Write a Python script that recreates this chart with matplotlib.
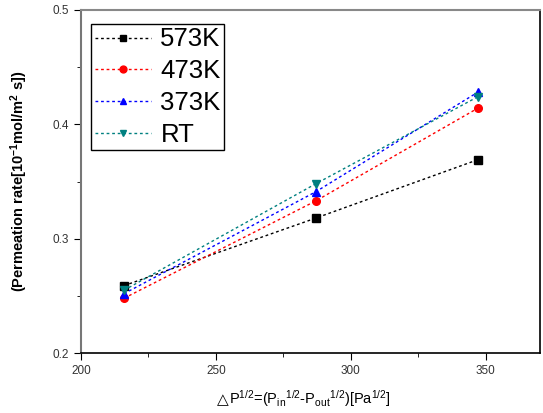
import numpy as np
import matplotlib
matplotlib.use('Agg')
import matplotlib.pyplot as plt
from matplotlib.ticker import MultipleLocator

plt.rcParams['font.family'] = ['Liberation Sans', 'DejaVu Sans']
plt.rcParams['mathtext.default'] = 'regular'

# Data
dp = [216, 287, 347]
labels = ['573K', '473K', '373K', 'RT']
rate_573 = [0.259, 0.318, 0.369]
rate_473 = [0.248, 0.333, 0.414]
rate_373 = [0.252, 0.341, 0.428]
rate_rt = [0.255, 0.348, 0.424]

series = [rate_573, rate_473, rate_373, rate_rt]
colors = ['black', 'red', 'blue', '#008080']
markers = ['s', 'o', '^', 'v']

fig = plt.figure(figsize=(5.43, 4.13), dpi=100)
ax = fig.add_axes([0.149, 0.145, 0.845, 0.831])

for ys, c, m, lab in zip(series, colors, markers, labels):
    ax.plot(dp, ys, color=c, marker=m, markersize=5.5, linestyle=(0, (2, 2)),
            linewidth=1.0, label=lab)

ax.set_xlim(200, 370)
ax.set_ylim(0.2, 0.5)
ax.xaxis.set_major_locator(MultipleLocator(50))
ax.xaxis.set_minor_locator(MultipleLocator(25))
ax.yaxis.set_major_locator(MultipleLocator(0.1))
ax.yaxis.set_minor_locator(MultipleLocator(0.05))
ax.tick_params(which='both', direction='out', labelsize=8.5, labelcolor='#333333')
ax.tick_params(which='major', length=5)
ax.tick_params(which='minor', length=3)

ax.spines['left'].set_color('#777777')
ax.spines['left'].set_linewidth(1.5)
ax.spines['top'].set_color('#888888')
ax.spines['top'].set_linewidth(1.5)
ax.spines['right'].set_linewidth(1.2)
ax.spines['bottom'].set_linewidth(1.2)

ax.set_xlabel('P$^{1/2}$=(P$_{in}$$^{1/2}$-P$_{out}$$^{1/2}$)[Pa$^{1/2}$]',
              fontsize=10.5, labelpad=8)
# the triangle glyph is drawn on its own so it can use DejaVu Sans
fig.canvas.draw()
bb = ax.xaxis.label.get_window_extent()
fig.text(bb.x0 - 1, bb.y0 + 2, '△', fontsize=11, family='DejaVu Sans',
         ha='right', va='bottom', transform=None)

ax.set_ylabel('(Permeation rate[10$^{-1}$mol/m$^{2}$ s])', fontsize=10.5,
              fontweight='bold', labelpad=16)

leg = ax.legend(loc='upper left', bbox_to_anchor=(0.022, 0.96), borderaxespad=0,
                fontsize=18.5, fancybox=False, framealpha=1, edgecolor='black',
                handlelength=2.2, handletextpad=0.35, labelspacing=0.3,
                borderpad=0.15, markerscale=0.9)
leg.get_frame().set_linewidth(1.0)

plt.savefig('out.png', dpi=100)
